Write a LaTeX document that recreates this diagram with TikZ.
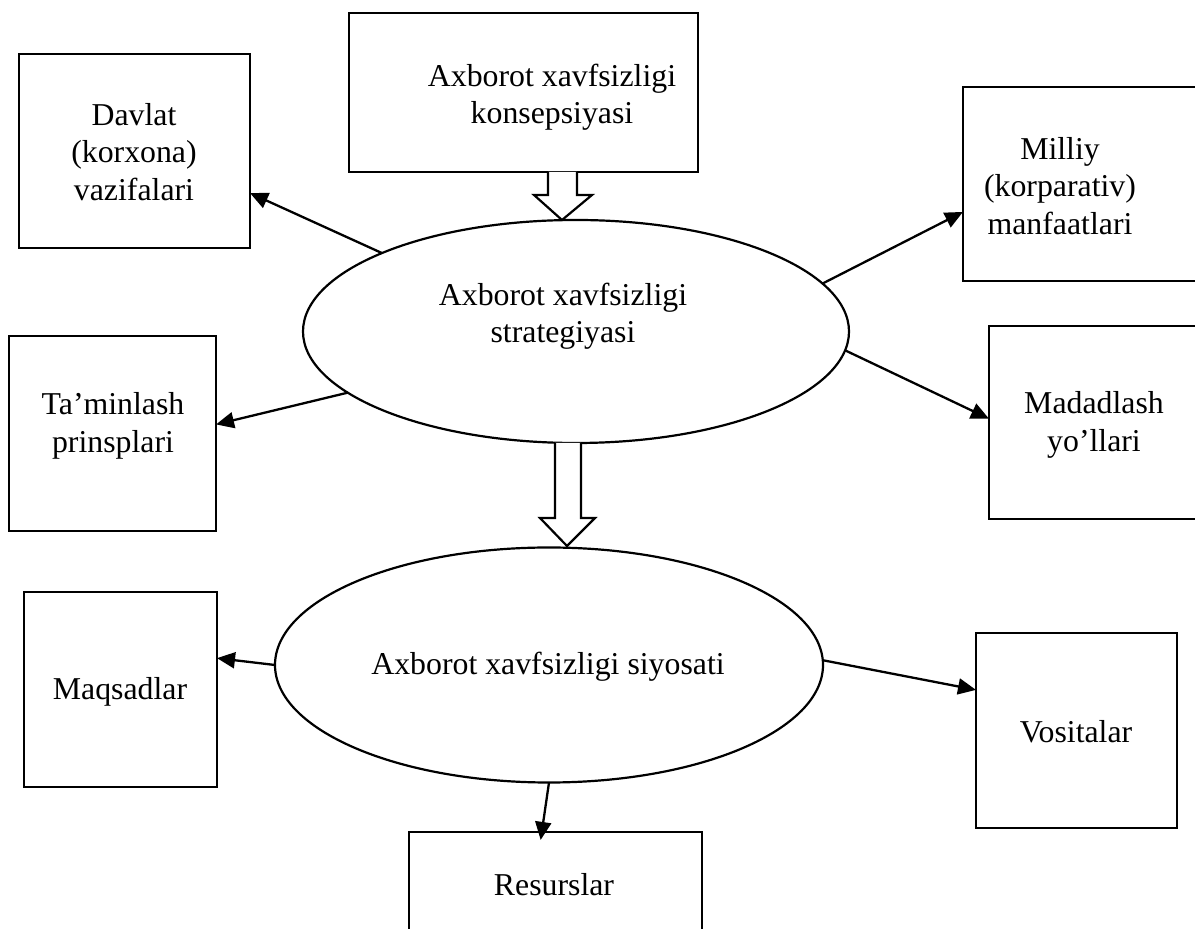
\documentclass[tikz,border=0pt]{standalone}
\usepackage{fontspec}
\setmainfont{Liberation Serif}
\usetikzlibrary{shapes.geometric,arrows.meta}
\begin{document}
\begin{tikzpicture}[x=0.5pt,y=-0.5pt,
  box/.style={draw=black,line width=1.3pt,rectangle,inner sep=0pt,outer sep=0pt},
  oval/.style={draw=black,line width=1.1pt,ellipse,inner sep=0pt,outer sep=0pt},
  txt/.style={align=center,inner sep=0pt,font=\fontsize{15.9pt}{18.75pt}\selectfont},
  conn/.style={line width=1.15pt,-{Triangle[length=9pt,width=8pt]}},
  hollow/.style={draw=black,line width=1.1pt,fill=white,line join=miter}]
\useasboundingbox (0,0) rectangle (1195,929);
% boxes
\node[box,minimum width=174.5pt,minimum height=79.5pt] (konsep) at (523.5,92.5) {};
\node[box,minimum width=115.5pt,minimum height=97pt] (dav) at (134.5,151) {};
\node[box,minimum width=103.5pt,minimum height=97.5pt] (tam) at (112.5,433.5) {};
\node[box,minimum width=121pt,minimum height=97pt] (mil) at (1084,184) {};
\node[box,minimum width=108pt,minimum height=96.5pt] (mad) at (1097,422.5) {};
\node[box,minimum width=96.5pt,minimum height=97.5pt] (maq) at (120.5,689.5) {};
\node[box,minimum width=100.5pt,minimum height=97.5pt] (vos) at (1076.5,730.5) {};
\node[box,minimum width=146.5pt,minimum height=97.5pt] (res) at (555.5,929.5) {};
% ellipses
\node[oval,minimum width=273pt,minimum height=111.5pt] (strat) at (576,331.5) {};
\node[oval,minimum width=274pt,minimum height=117.5pt] (siy) at (549,665) {};
% texts
\node[txt] (tkonsep) at (552,97) {Axborot xavfsizligi\\konsepsiyasi};
\node[txt] (tdav) at (134,152) {Davlat\\(korxona)\\vazifalari};
\node[txt] (ttam) at (113,426) {Ta’minlash\\prinsplari};
\node[txt] (tmil) at (1060,186) {Milliy\\(korparativ)\\manfaatlari};
\node[txt] (tmad) at (1094,425) {Madadlash\\yo’llari};
\node[txt] (tstrat) at (563,316) {Axborot xavfsizligi\\strategiyasi};
\node[txt] (tsiy) at (548,667) {Axborot xavfsizligi siyosati};
\node[txt] (tmaq) at (120,692) {Maqsadlar};
\node[txt] (tres) at (554,885) {Resurslar};
\node[txt] (tvos) at (1076,732) {Vositalar};
% hollow arrows
\draw[hollow] (548,172) -- (548,195) -- (534,195) -- (562,220) -- (592,195) -- (577,195) -- (577,172);
\draw[hollow] (555,443) -- (555,518) -- (540,518) -- (567,546) -- (595,518) -- (581,518) -- (581,443);
% connectors
\draw[conn] (strat.158.2) -- (dav.-20.4);
\draw[conn] (strat.195.1) -- (tam.5.8);
\draw[conn] (strat.11) -- (mil.193);
\draw[conn] (strat.-4.1) -- (mad.178.7);
\draw[conn] (siy.180) -- (maq.18.6);
\draw[conn] (siy.1.2) -- (vos.158.5);
\draw[conn,shorten >=-4pt] (siy.-90) -- (res.98.5);
\end{tikzpicture}
\end{document}
